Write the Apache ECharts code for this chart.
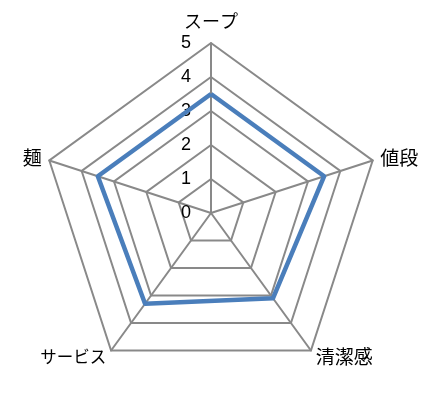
<!DOCTYPE html>
<html>
<head>
<meta charset="utf-8">
<script src="https://cdn.jsdelivr.net/npm/echarts@6/dist/echarts.min.js"></script>
<style>
html,body{margin:0;padding:0;background:#fff;}
#chart{width:445px;height:409px;}
</style>
</head>
<body>
<div id="chart"></div>
<script>
// indicators listed counter-clockwise from the top (ECharts radar direction)
const categories = ['スープ', '麺', 'サービス', '清潔感', '値段'];
const values = [3.5, 3.5, 3.3, 3.1, 3.5];
const maxValue = 5;
const tickCount = 5;

const chart = echarts.init(document.getElementById('chart'));
const gray = '#898989';
chart.setOption({
  animation: false,
  backgroundColor: '#fff',
  radar: {
    center: [211, 213],
    radius: 170,
    startAngle: 90,
    shape: 'polygon',
    splitNumber: tickCount,
    nameGap: 8,
    axisName: {
      color: '#000',
      fontSize: 19,
      fontFamily: 'Noto Sans CJK JP',
      formatter: function (name) {
        if (name === 'スープ') return '{top|' + name + '}';
        if (name === 'サービス') return '{kana|' + name + '}';
        return name;
      },
      rich: {
        top: { fontSize: 18, fontFamily: 'Noto Sans CJK JP', color: '#000', padding: [0, 0, 5, 0] },
        kana: { fontSize: 16.5, fontFamily: 'Noto Sans CJK JP', color: '#000' }
      }
    },
    indicator: categories.map(function (c, i) {
      const ind = { name: c, min: 0, max: maxValue };
      if (i === 0) {
        ind.axisLabel = { show: true };
      }
      return ind;
    }),
    axisLine: { lineStyle: { color: gray, width: 2 } },
    splitLine: { lineStyle: { color: gray, width: 2 } },
    splitArea: { show: false },
    axisTick: { show: false },
    axisLabel: {
      show: false,
      color: '#000',
      fontSize: 18,
      fontFamily: 'Liberation Sans',
      margin: 20,
      showMinLabel: true,
      showMaxLabel: true
    }
  },
  series: [{
    type: 'radar',
    symbol: 'none',
    lineStyle: { color: '#4a7ebb', width: 4.5 },
    data: [{ value: values }]
  }]
});
</script>
</body>
</html>
